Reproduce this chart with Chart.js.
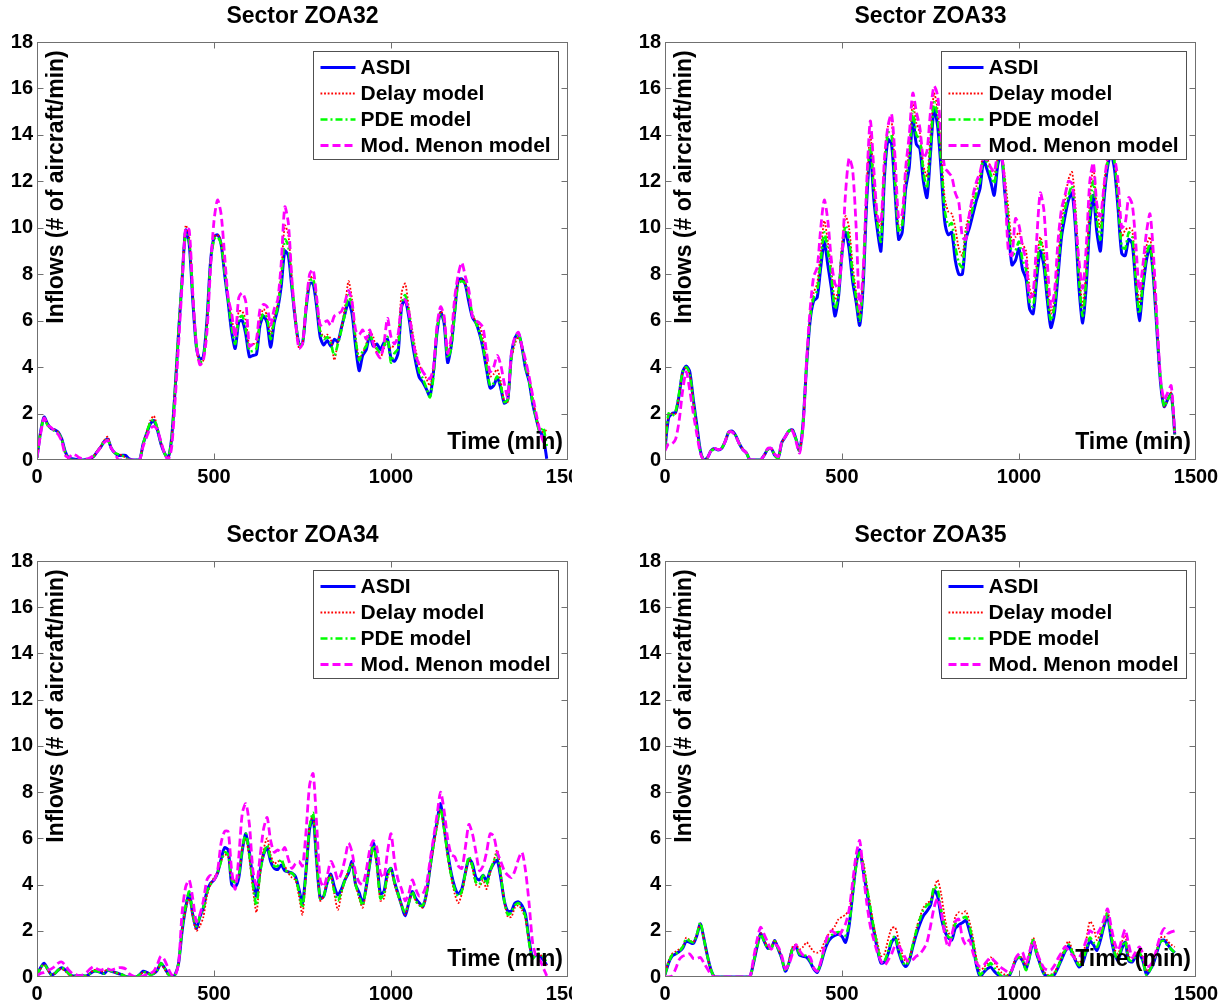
<!DOCTYPE html>
<html><head><meta charset="utf-8">
<script src="https://cdn.jsdelivr.net/npm/chart.js@4.4.1/dist/chart.umd.min.js"></script>
<style>
html,body{margin:0;padding:0;background:#fff;}
body{width:1228px;height:1006px;position:relative;overflow:hidden;}
.p{position:absolute;}
canvas{display:block;}
</style></head><body>
<div class="p" style="left:0;top:0;"><canvas id="c1" width="572" height="500"></canvas></div>
<div class="p" style="left:614px;top:0;"><canvas id="c2" width="614" height="500"></canvas></div>
<div class="p" style="left:0;top:500px;"><canvas id="c3" width="572" height="506"></canvas></div>
<div class="p" style="left:614px;top:500px;"><canvas id="c4" width="614" height="506"></canvas></div>
<script>
// ---------------- DATA ----------------
const TIME = [
0,10,20,30,40,50,60,70,80,90,
100,110,120,130,140,150,160,170,180,190,
200,210,220,230,240,250,260,270,280,290,
300,310,320,330,340,350,360,370,380,390,
400,410,420,430,440,450,460,470,480,490,
500,510,520,530,540,550,560,570,580,590,
600,610,620,630,640,650,660,670,680,690,
700,710,720,730,740,750,760,770,780,790,
800,810,820,830,840,850,860,870,880,890,
900,910,920,930,940,950,960,970,980,990,
1000,1010,1020,1030,1040,1050,1060,1070,1080,1090,
1100,1110,1120,1130,1140,1150,1160,1170,1180,1190,
1200,1210,1220,1230,1240,1250,1260,1270,1280,1290,
1300,1310,1320,1330,1340,1350,1360,1370,1380,1390,
1400,1410,1420,1430,1440];

const SECTORS = ['Sector ZOA32','Sector ZOA33','Sector ZOA34','Sector ZOA35'];
const SERIES_NAMES = ['ASDI','Delay model','PDE model','Mod. Menon model'];
const X_TICKS = [0,500,1000,1500];
const Y_TICKS = [0,2,4,6,8,10,12,14,16,18];
const X_LABEL = 'Time (min)';
const Y_LABEL = 'Inflows (# of aircraft/min)';

// ---- Sector ZOA32 ----
const ZOA32_ASDI = [
0.1,1.2,1.85,1.55,1.35,1.3,1.2,0.9,0.35,0.08,
0.05,0.02,0,0,0.02,0.05,0.15,0.36,0.55,0.8,
0.9,0.5,0.3,0.2,0.2,0.2,0.05,0,0,0,
0.7,1.15,1.55,1.7,1.3,0.7,0.3,0.08,0.9,3.0,
5.5,7.8,9.9,9.3,6.9,4.9,4.35,4.45,6.0,8.5,
9.6,9.7,9.3,8.0,6.8,5.5,4.8,5.95,6.0,5.4,
4.45,4.5,4.55,5.8,6.2,5.9,4.85,5.9,6.5,7.5,
9.0,8.8,7.4,6.0,5.0,5.0,6.5,7.6,7.6,6.6,
5.3,4.95,5.15,4.9,5.2,5.1,5.7,6.3,6.8,6.3,
4.9,3.85,4.5,4.75,5.4,4.9,5.0,4.75,5.05,5.2,
4.4,4.25,4.6,6.6,6.9,6.2,5.1,4.2,3.55,3.35,
3.05,2.75,3.8,5.5,6.35,5.9,4.2,4.9,6.4,7.75,
7.8,7.55,6.8,6.15,5.9,5.45,4.8,3.9,3.1,3.2,
3.55,3.1,2.45,2.6,4.5,5.25,5.45,4.85,3.95,3.4,
2.45,1.8,1.25,1.0,0.05];
const ZOA32_DELAY = [
0.1,1.2,1.85,1.55,1.4,1.3,1.2,0.9,0.3,0.05,
0,0,0,0,0,0.05,0.15,0.4,0.6,0.85,
1.0,0.5,0.3,0.25,0.2,0.1,0,0,0,0,
0.7,1.2,1.7,1.9,1.4,0.75,0.3,0.05,0.9,3.1,
5.6,8.0,10.1,9.6,7.1,4.9,4.1,4.3,5.9,8.5,
9.6,9.7,9.4,8.2,7.0,6.1,5.4,6.4,6.4,6.0,
4.9,5.0,5.0,6.1,6.5,6.2,5.4,6.2,6.7,8.1,
10.1,9.7,7.8,6.0,4.8,5.0,6.6,7.8,7.9,6.9,
5.6,5.3,5.4,5.2,4.3,5.1,5.7,6.6,7.7,6.9,
5.3,4.4,4.6,5.0,5.5,5.3,4.6,4.4,4.8,5.1,
4.8,5.0,5.3,7.2,7.6,6.6,5.6,4.7,4.1,3.8,
3.5,3.2,3.9,5.7,6.4,6.2,4.6,5.1,6.6,7.7,
7.8,7.6,7.0,6.2,6.0,5.8,5.2,4.3,3.6,3.7,
3.9,3.4,2.5,2.5,4.3,5.0,5.3,4.8,4.2,3.6,
2.7,1.9,1.3,1.2,1.3];
const ZOA32_PDE = [
0.1,1.2,1.8,1.5,1.35,1.25,1.15,0.9,0.3,0.05,
0,0,0,0,0,0.05,0.15,0.35,0.55,0.8,
0.85,0.5,0.3,0.25,0.2,0.1,0,0,0,0,
0.7,1.2,1.6,1.75,1.35,0.75,0.3,0.05,0.9,3.1,
5.6,7.9,9.7,9.4,7.1,5.0,4.2,4.4,5.9,8.4,
9.5,9.6,9.3,8.1,6.9,5.7,5.0,6.1,6.2,5.6,
4.7,4.7,4.8,5.9,6.3,6.1,5.2,6.0,6.6,7.8,
9.5,9.2,7.6,6.1,5.0,5.0,6.6,7.7,7.8,6.8,
5.5,5.2,5.3,5.0,4.5,5.0,5.6,6.3,7.1,6.6,
5.2,4.3,4.7,4.9,5.4,5.0,4.8,4.6,4.9,5.3,
4.2,4.6,4.8,6.7,7.1,6.4,5.3,4.4,3.8,3.5,
3.1,2.7,3.6,5.6,6.3,6.0,4.4,4.8,6.3,7.6,
7.7,7.6,7.0,6.3,5.9,5.5,4.9,4.0,3.2,3.3,
3.6,3.2,2.5,2.6,4.4,5.2,5.4,4.9,4.0,3.4,
2.5,1.8,1.2,1.4,0.6];
const ZOA32_MENON = [
0.1,1.1,1.8,1.5,1.4,1.25,1.1,0.8,0.2,0.1,
0.25,0.2,0.1,0.05,0.05,0.1,0.2,0.35,0.55,0.75,
0.85,0.5,0.3,0,0,0,0,0,0,0,
0.6,1.0,1.35,1.45,1.3,0.8,0.3,0,0.5,2.5,
5.0,7.6,10.0,9.9,7.2,5.0,4.1,4.3,5.5,8.2,
10.3,11.2,10.6,8.8,7.0,6.3,5.3,7.0,7.2,6.8,
4.9,5.0,5.2,6.5,6.7,6.6,5.8,6.5,6.9,8.5,
10.9,10.2,7.8,6.0,4.8,5.0,6.6,8.0,8.2,7.0,
5.8,5.9,6.0,5.8,6.2,6.3,6.4,6.8,7.3,6.8,
5.6,5.4,5.6,5.2,5.6,5.0,4.6,4.4,5.0,6.1,
5.3,5.0,5.4,6.7,6.9,6.4,5.4,4.5,4.1,3.8,
3.6,3.5,4.0,5.8,6.6,6.2,4.6,5.3,7.0,8.0,
8.5,7.9,7.3,6.2,6.0,5.9,5.7,4.6,3.8,4.0,
4.5,4.1,3.3,2.7,4.6,5.3,5.5,4.9,4.3,3.6,
2.8,2.0,1.3,0.8,0.7];

// ---- Sector ZOA33 ----
const ZOA33_ASDI = [
0.5,1.8,2.0,2.05,2.8,3.8,4.05,3.8,2.6,1.5,
0.4,0,0.1,0.4,0.5,0.43,0.5,0.8,1.2,1.25,
1.05,0.7,0.45,0.3,0,0,0,0,0.2,0.45,
0.5,0.2,0.1,0.75,1.0,1.25,1.3,0.9,0.4,1.6,
4.1,6.0,6.85,7.0,8.3,9.4,8.4,7.4,6.2,7.0,
8.9,9.8,9.1,7.7,6.8,5.8,7.6,11.2,13.3,11.2,
9.9,9.0,12.2,13.8,13.6,11.5,9.5,9.8,11.7,12.6,
14.7,13.6,13.4,12.0,11.3,13.2,15.1,14.4,12.5,10.3,
9.7,9.8,8.6,8.0,8.0,9.5,10.0,10.6,11.2,11.7,
12.9,12.5,12.0,11.4,12.7,13.2,11.5,10.0,8.4,8.6,
9.1,8.2,7.8,6.5,6.3,7.8,9.0,8.4,6.9,5.7,
6.3,7.9,9.6,10.5,11.2,11.5,9.9,7.3,5.9,7.5,
10.2,11.4,9.8,9.0,11.2,12.6,13.2,12.5,10.8,8.9,
8.8,9.5,9.3,7.5,6.0,7.4,8.6,9.2,7.8,5.5,
3.3,2.3,2.6,2.85,1.1];
const ZOA33_DELAY = [
0.5,1.9,2.0,2.0,2.8,3.8,4.0,3.7,2.5,1.4,
0.35,0,0.1,0.4,0.5,0.45,0.5,0.8,1.2,1.25,
1.05,0.7,0.45,0.3,0,0,0,0,0.2,0.45,
0.5,0.2,0.1,0.75,1.0,1.25,1.3,0.9,0.35,1.5,
4.1,6.3,7.2,7.6,9.0,10.3,9.4,8.2,6.9,7.4,
9.3,10.5,10.0,8.4,7.2,6.2,8.0,11.9,14.0,12.0,
10.3,10.0,12.9,14.4,14.6,12.4,10.0,10.2,12.3,13.4,
15.4,14.5,14.1,12.7,12.2,14.0,15.8,15.1,13.3,11.3,
10.7,10.6,10.0,9.1,8.8,10.0,10.6,11.3,11.8,12.3,
13.3,13.0,12.6,12.3,13.0,13.3,12.2,10.8,9.4,9.6,
9.8,9.3,9.0,7.4,7.0,8.5,9.6,9.0,7.6,6.3,
6.9,8.6,10.3,11.2,12.1,12.4,10.8,8.2,6.6,8.3,
11.2,12.6,10.8,10.0,11.8,13.0,13.4,12.9,11.4,9.6,
9.9,10.0,9.9,8.0,6.8,7.9,9.2,9.6,8.1,5.7,
3.4,2.3,2.6,2.9,1.1];
const ZOA33_PDE = [
0.5,2.0,1.9,2.1,2.9,3.8,4.0,3.7,2.5,1.4,
0.35,0,0.1,0.4,0.45,0.45,0.5,0.8,1.2,1.2,
1.05,0.7,0.45,0.3,0,0,0,0,0.2,0.45,
0.5,0.2,0.05,0.75,1.0,1.25,1.3,0.9,0.4,1.6,
4.1,6.1,7.0,7.3,8.6,9.8,9.0,7.9,6.5,7.1,
9.0,10.1,9.5,8.0,7.0,6.0,7.8,11.6,13.6,11.6,
10.2,9.4,12.5,14.1,14.0,11.9,9.8,10.1,12.0,13.0,
15.0,14.0,13.8,12.4,11.7,13.5,15.4,14.8,12.9,10.8,
10.1,10.2,9.2,8.5,8.3,9.8,10.3,10.9,11.5,12.0,
13.1,12.8,12.3,11.9,12.9,13.3,11.8,10.3,8.8,9.0,
9.4,8.6,8.2,6.8,6.6,8.1,9.4,8.7,7.2,6.0,
6.6,8.2,9.9,10.8,11.4,11.8,10.3,7.7,6.2,7.9,
10.6,12.0,10.3,9.5,11.5,12.8,13.4,12.8,11.1,9.2,
9.1,9.8,9.6,7.8,6.3,7.6,8.8,9.3,7.9,5.6,
3.4,2.3,2.6,2.8,1.1];
const ZOA33_MENON = [
0.4,0.7,0.7,0.9,1.7,3.0,3.8,3.0,2.0,1.1,
0.3,0,0.1,0.4,0.5,0.45,0.5,0.8,1.2,1.2,
1.0,0.7,0.45,0.3,0,0,0,0,0.2,0.5,
0.5,0.25,0.15,0.8,1.0,1.25,1.25,0.8,0.3,1.4,
4.3,6.5,7.9,8.3,10.0,11.2,10.3,8.6,7.6,7.4,
8.8,11.5,13.0,12.5,10.0,6.5,8.2,12.0,14.6,12.5,
10.5,10.2,13.0,14.4,14.9,13.0,10.4,10.6,12.6,14.0,
15.8,15.0,14.3,13.0,13.3,15.0,16.1,15.7,14.0,12.6,
12.4,12.2,11.5,11.1,9.6,9.5,10.6,11.4,12.0,12.4,
13.0,12.9,12.6,12.4,13.2,13.2,11.8,9.0,8.8,10.4,
10.1,9.2,8.6,7.0,7.2,9.5,11.5,10.8,8.5,6.6,
7.2,9.4,10.8,11.4,12.0,11.9,10.3,8.5,7.4,9.2,
12.0,12.8,11.0,10.5,11.8,13.0,13.3,13.0,12.0,10.0,
10.2,11.3,11.0,9.3,7.3,8.4,9.8,10.6,8.8,6.0,
3.5,2.6,2.9,3.2,1.2];

// ---- Sector ZOA34 ----
const ZOA34_ASDI = [
0.05,0.4,0.6,0.35,0.1,0.15,0.3,0.4,0.3,0.15,
0.05,0.05,0.05,0.05,0.05,0.15,0.25,0.25,0.2,0.15,
0.3,0.25,0.2,0.15,0.1,0.02,0,0,0,0.1,
0.25,0.2,0.12,0.15,0.3,0.6,0.4,0.15,0,0.1,
0.6,2.0,3.0,3.6,2.7,2.1,2.6,3.0,3.7,4.05,
4.2,4.5,5.1,5.6,5.5,4.0,3.9,4.3,5.5,6.2,
5.4,4.2,3.5,4.6,5.3,5.6,5.0,4.7,4.65,4.85,
4.6,4.55,4.5,4.35,3.8,3.2,4.6,6.4,6.9,5.0,
3.4,3.5,4.1,4.45,3.9,3.55,3.8,4.2,4.5,5.0,
4.0,3.65,3.2,3.9,4.9,5.8,5.0,3.6,3.7,4.5,
4.7,4.1,3.6,3.1,2.65,3.2,3.7,3.4,3.2,3.05,
3.6,4.7,5.8,6.7,7.5,6.5,5.4,4.5,3.9,3.6,
3.8,4.5,5.1,4.9,4.3,4.2,4.4,4.15,4.6,4.9,
5.05,4.3,3.3,2.85,2.85,3.2,3.25,3.1,2.7,1.6,
0.85,0.95,0.9,0.75,0.5];
const ZOA34_DELAY = [
0.05,0.35,0.55,0.3,0.1,0.15,0.3,0.35,0.25,0.1,
0.05,0.05,0.05,0.05,0.05,0.15,0.3,0.3,0.25,0.25,
0.35,0.3,0.2,0.15,0.1,0.05,0,0,0,0.1,
0.2,0.2,0.1,0.15,0.3,0.55,0.35,0.1,0,0.1,
0.6,2.0,2.9,3.4,2.6,2.0,2.2,2.6,3.5,4.0,
4.3,4.5,5.0,5.3,5.2,4.2,4.2,4.4,5.6,6.0,
5.1,3.8,2.8,4.4,5.5,6.0,5.3,4.9,5.0,5.0,
4.8,4.5,4.3,4.2,3.5,2.7,4.5,6.5,7.0,5.0,
3.3,3.5,4.2,4.4,3.6,2.9,3.6,4.2,4.6,4.9,
4.0,3.4,3.0,3.8,4.9,5.6,4.8,3.3,3.4,4.3,
4.6,4.0,3.5,3.1,2.7,3.2,3.6,3.3,3.1,3.0,
3.5,4.6,5.6,6.5,7.2,6.4,5.2,4.3,3.6,3.2,
3.6,4.4,5.1,4.7,4.0,3.9,4.2,3.8,4.5,5.0,
5.5,4.5,3.3,2.6,2.6,3.0,3.1,2.9,2.5,1.5,
0.8,1.0,1.0,0.8,0.5];
const ZOA34_PDE = [
0.05,0.4,0.55,0.35,0.1,0.15,0.3,0.4,0.3,0.15,
0.05,0.05,0.05,0.05,0.05,0.15,0.25,0.25,0.2,0.15,
0.3,0.25,0.2,0.15,0.1,0.02,0,0,0,0.1,
0.2,0.2,0.1,0.15,0.3,0.6,0.4,0.15,0,0.1,
0.6,2.1,3.1,3.7,2.8,2.2,2.6,3.0,3.7,4.0,
4.2,4.5,5.0,5.4,5.3,4.2,4.1,4.4,5.6,6.2,
5.3,4.0,3.1,4.5,5.3,5.7,5.1,4.8,4.8,5.1,
4.7,4.5,4.5,4.3,3.7,3.0,4.6,6.5,7.1,5.1,
3.4,3.5,4.1,4.3,3.7,3.3,3.7,4.2,4.6,4.9,
4.0,3.5,3.1,3.9,4.9,5.7,4.9,3.4,3.6,4.4,
4.7,4.1,3.6,3.1,2.8,3.2,3.7,3.3,3.1,3.1,
3.6,4.7,5.7,6.6,7.3,6.4,5.3,4.4,3.8,3.5,
3.7,4.5,5.2,4.8,4.1,4.0,4.4,4.0,4.6,5.0,
5.3,4.4,3.3,2.7,2.8,3.1,3.2,3.0,2.6,1.5,
0.8,1.0,1.0,0.9,0.6];
const ZOA34_MENON = [
0.05,0.15,0.2,0.3,0.35,0.45,0.6,0.65,0.5,0.3,
0.15,0.1,0.05,0.1,0.2,0.35,0.45,0.35,0.3,0.35,
0.35,0.3,0.35,0.4,0.4,0.35,0.15,0.05,0,0,
0.05,0.1,0.15,0.25,0.55,0.9,0.75,0.4,0.1,0.05,
0.6,2.8,3.9,4.2,3.4,2.4,2.7,3.3,4.2,4.4,
4.2,4.6,5.8,6.3,6.3,4.6,3.8,5.2,7.1,7.5,
6.6,4.6,4.0,5.2,6.4,6.9,5.9,5.4,5.5,5.4,
5.6,5.1,4.7,4.9,5.0,4.8,6.3,8.3,8.8,6.6,
4.2,3.9,4.4,5.0,4.7,4.2,4.5,5.1,5.8,5.4,
4.5,4.1,4.0,4.6,5.5,5.9,5.6,4.5,4.3,5.4,
6.2,5.0,4.2,3.8,3.3,3.6,4.2,3.8,3.5,3.6,
4.0,5.0,6.0,7.0,8.0,7.2,6.0,5.3,5.2,4.8,
4.7,5.6,6.6,6.2,5.4,4.6,4.8,5.4,6.2,6.1,
5.4,5.0,4.6,4.4,4.3,4.6,5.1,5.4,4.6,3.2,
1.5,0.9,0.75,0.4,0.05];

// ---- Sector ZOA35 ----
const ZOA35_ASDI = [
0.1,0.6,0.9,1.0,1.1,1.25,1.55,1.5,1.45,1.8,
2.3,1.65,0.9,0.3,0,0,0,0,0,0,
0,0,0,0,0,0.6,1.3,1.88,1.55,1.25,
1.25,1.58,1.2,0.8,0.25,0.6,1.2,1.3,0.95,0.9,
0.85,0.65,0.35,0.2,0.55,1.1,1.5,1.7,1.8,1.85,
1.75,1.5,2.2,3.6,4.9,5.5,4.6,3.7,2.8,2.0,
1.2,0.6,0.65,1.0,1.5,1.7,1.1,0.65,0.45,0.7,
1.3,1.85,2.3,2.65,2.85,3.1,3.75,3.5,2.6,2.0,
1.7,1.6,2.1,2.25,2.35,2.45,2.0,1.4,0.5,0.02,
0.2,0.35,0.43,0.25,0.1,0,0,0,0.3,0.7,
0.85,0.7,0.36,0.9,1.55,1.0,0.55,0.15,0.02,0,
0.1,0.4,0.75,1.1,1.35,1.05,0.7,0.43,0.6,1.1,
1.55,1.4,1.15,1.6,2.2,2.65,1.7,1.0,0.72,1.2,
1.5,0.7,0.65,0.9,1.0,0.7,0.12,0.3,0.6,1.1,
1.55,1.6,1.4,1.2,1.05];
const ZOA35_DELAY = [
0.1,0.7,1.0,1.1,1.2,1.3,1.7,1.6,1.5,1.85,
2.3,1.6,0.85,0.3,0,0,0,0,0,0,
0,0,0,0,0,0.6,1.3,1.9,1.6,1.3,
1.3,1.6,1.25,0.8,0.3,0.7,1.3,1.4,1.2,1.3,
1.5,1.3,1.1,1.05,1.15,1.5,1.8,2.0,2.2,2.5,
2.6,2.7,2.9,3.8,4.9,5.3,5.0,4.0,3.1,2.2,
1.5,0.9,1.0,1.6,2.1,2.15,1.6,1.0,0.65,0.8,
1.4,2.1,2.6,3.0,3.2,3.3,3.8,4.2,3.6,2.6,
1.9,1.9,2.6,2.8,2.75,2.85,2.4,1.7,0.8,0.3,
0.4,0.6,0.85,0.65,0.4,0.2,0.1,0.1,0.35,0.8,
0.9,0.8,0.5,1.1,1.7,1.2,0.6,0.25,0.1,0.1,
0.2,0.5,0.9,1.3,1.55,1.2,0.8,0.6,0.9,1.6,
2.4,2.2,1.6,1.9,2.3,2.85,2.0,1.2,1.0,1.5,
1.8,0.9,0.8,1.0,1.1,0.8,0.25,0.4,0.75,1.2,
1.7,1.75,1.55,1.4,1.3];
const ZOA35_PDE = [
0.1,0.6,0.95,1.0,1.1,1.3,1.65,1.55,1.5,1.85,
2.35,1.65,0.9,0.3,0,0,0,0,0,0,
0,0,0,0,0,0.6,1.3,1.85,1.55,1.25,
1.25,1.55,1.2,0.8,0.25,0.6,1.2,1.35,1.0,0.95,
0.9,0.7,0.4,0.25,0.6,1.2,1.6,1.8,1.9,1.95,
1.9,1.8,2.3,3.5,4.8,5.4,4.8,3.9,3.0,2.1,
1.3,0.7,0.7,1.1,1.6,1.75,1.2,0.7,0.5,0.75,
1.4,2.0,2.5,2.9,3.1,3.2,3.9,3.8,2.9,2.2,
1.75,1.7,2.3,2.5,2.55,2.6,2.2,1.5,0.6,0.1,
0.25,0.45,0.6,0.4,0.2,0.05,0.05,0.05,0.3,0.75,
0.85,0.7,0.3,0.9,1.6,1.0,0.5,0.15,0.05,0.05,
0.15,0.45,0.8,1.15,1.4,1.1,0.75,0.5,0.7,1.2,
1.7,1.5,1.3,1.7,2.3,2.75,1.8,1.05,0.75,1.3,
1.55,0.75,0.7,0.95,1.05,0.7,0.1,0.3,0.65,1.15,
1.55,1.55,1.35,1.2,1.05];
const ZOA35_MENON = [
0,0,0.05,0.35,0.75,0.9,0.95,1.0,0.8,0.8,
0.85,0.6,0.35,0.1,0,0,0,0,0,0,
0,0,0,0,0,0.8,1.6,2.15,1.85,1.5,
1.2,1.4,1.3,0.9,0.35,0.55,1.0,1.4,1.15,0.95,
0.9,0.85,0.4,0.25,0.65,1.3,1.8,2.0,1.9,1.75,
2.0,2.3,2.9,4.1,5.3,5.9,4.5,3.2,2.2,1.6,
1.05,0.7,0.5,0.72,1.0,1.35,1.35,1.1,0.8,0.65,
0.75,0.9,1.0,1.2,1.5,2.2,3.0,3.4,2.9,1.85,
1.3,1.8,2.4,2.5,1.7,1.4,1.6,1.05,0.6,0.45,
0.5,0.7,0.85,0.7,0.55,0.4,0.3,0.2,0.3,0.8,
1.0,1.08,0.58,1.1,1.55,1.1,0.7,0.4,0.3,0.3,
0.5,0.8,1.05,1.3,1.15,0.95,0.78,0.85,1.15,1.6,
2.0,1.9,1.88,2.1,2.5,2.95,2.2,1.5,1.15,1.6,
2.05,1.4,0.85,1.1,1.3,1.0,0.45,0.5,0.72,1.3,
1.8,2.1,1.9,1.95,2.0];

// ---------------- STYLE / LAYOUT ----------------
const FONT = "'Liberation Sans', Arial, Helvetica, sans-serif";
const STYLES = [
  {color:'#0000ff', width:3, dash:[], order:4},
  {color:'#ff0000', width:1.8, dash:[1.8,1.8], order:3},
  {color:'#00ff00', width:2.6, dash:[7,3,2,3], order:2},
  {color:'#ff00ff', width:2.8, dash:[8,4], order:1}
];
const PANELS = [
  {id:'c1', title:SECTORS[0], series:[ZOA32_ASDI,ZOA32_DELAY,ZOA32_PDE,ZOA32_MENON], yw:37, xh:40, top:42, right:4},
  {id:'c2', title:SECTORS[1], series:[ZOA33_ASDI,ZOA33_DELAY,ZOA33_PDE,ZOA33_MENON], yw:51, xh:40, top:42, right:32},
  {id:'c3', title:SECTORS[2], series:[ZOA34_ASDI,ZOA34_DELAY,ZOA34_PDE,ZOA34_MENON], yw:37, xh:29, top:61, right:4},
  {id:'c4', title:SECTORS[3], series:[ZOA35_ASDI,ZOA35_DELAY,ZOA35_PDE,ZOA35_MENON], yw:51, xh:29, top:61, right:32}
];

const decor = {
  id:'decor',
  afterDatasetsDraw(chart){
    const ctx = chart.ctx, a = chart.chartArea;
    const xs = chart.scales.x, ys = chart.scales.y;
    const L = Math.round(a.left)+0.5, R = Math.round(a.right)-0.5;
    const T = Math.round(a.top)+0.5, B = Math.round(a.bottom)-0.5;
    ctx.save();
    ctx.setLineDash([]);
    ctx.strokeStyle = '#707070';
    ctx.lineWidth = 1;
    ctx.strokeRect(L, T, R-L, B-T);
    ctx.beginPath();
    Y_TICKS.forEach(v=>{
      if (v===Y_TICKS[0] || v===Y_TICKS[Y_TICKS.length-1]) return;
      const y = Math.round(ys.getPixelForValue(v))+0.5;
      ctx.moveTo(L, y); ctx.lineTo(L+6, y);
      ctx.moveTo(R, y); ctx.lineTo(R-6, y);
    });
    X_TICKS.forEach(v=>{
      if (v===X_TICKS[0] || v===X_TICKS[X_TICKS.length-1]) return;
      const x = Math.round(xs.getPixelForValue(v))+0.5;
      ctx.moveTo(x, T); ctx.lineTo(x, T+6);
      ctx.moveTo(x, B); ctx.lineTo(x, B-6);
    });
    ctx.stroke();

    ctx.fillStyle = '#000';
    ctx.font = 'bold 23px ' + FONT;
    ctx.textAlign = 'center'; ctx.textBaseline = 'middle';
    ctx.fillText(chart.options.plugins.decor.title, (a.left+a.right)/2, a.top-25);
    ctx.textAlign = 'right';
    ctx.fillText(X_LABEL, a.right-5, a.bottom-17);
    ctx.save();
    ctx.translate(a.left+20, a.top+145);
    ctx.rotate(-Math.PI/2);
    ctx.textAlign = 'center';
    ctx.fillText(Y_LABEL, 0, 0);
    ctx.restore();

    const bw = 245, bh = 108;
    const bx = Math.round(a.right-10-bw)+0.5, by = Math.round(a.top+9)+0.5;
    ctx.fillStyle = '#fff';
    ctx.fillRect(bx, by, bw, bh);
    ctx.strokeStyle = '#505050';
    ctx.lineWidth = 1;
    ctx.strokeRect(bx, by, bw, bh);
    ctx.font = 'bold 21px ' + FONT;
    ctx.textAlign = 'left'; ctx.textBaseline = 'middle';
    SERIES_NAMES.forEach((name,i)=>{
      const st = STYLES[i];
      const yy = by + 16 + 26*i;
      ctx.beginPath();
      ctx.setLineDash(st.dash);
      ctx.strokeStyle = st.color;
      ctx.lineWidth = st.width;
      ctx.moveTo(bx+7, yy); ctx.lineTo(bx+42, yy);
      ctx.stroke();
      ctx.setLineDash([]);
      ctx.fillStyle = '#000';
      ctx.fillText(name, bx+47, yy+1);
    });
    ctx.restore();
  }
};

PANELS.forEach(p=>{
  const datasets = p.series.map((vals,i)=>({
    label: SERIES_NAMES[i],
    data: TIME.map((t,k)=>({x:t, y:vals[k]})),
    borderColor: STYLES[i].color,
    borderWidth: STYLES[i].width,
    borderDash: STYLES[i].dash,
    pointRadius: 0,
    tension: 0.25,
    fill: false,
    order: STYLES[i].order
  }));
  new Chart(document.getElementById(p.id), {
    type:'line',
    data:{datasets},
    plugins:[decor],
    options:{
      responsive:false,
      animation:false,
      devicePixelRatio:1,
      layout:{padding:{top:p.top, right:p.right, left:0, bottom:0}},
      plugins:{legend:{display:false}, tooltip:{enabled:false}, title:{display:false}, decor:{title:p.title}},
      scales:{
        x:{
          type:'linear', min:X_TICKS[0], max:X_TICKS[X_TICKS.length-1],
          grid:{display:false, drawTicks:false}, border:{display:false},
          afterBuildTicks:s=>{ s.ticks = X_TICKS.map(v=>({value:v})); },
          afterFit:s=>{ s.height = p.xh; s.paddingLeft = 0; s.paddingRight = 0; },
          ticks:{color:'#000', font:{family:FONT, size:20, weight:'bold'}, padding:5, maxRotation:0, minRotation:0, autoSkip:false, callback:v=>String(v)}
        },
        y:{
          type:'linear', min:Y_TICKS[0], max:Y_TICKS[Y_TICKS.length-1],
          grid:{display:false, drawTicks:false}, border:{display:false},
          afterBuildTicks:s=>{ s.ticks = Y_TICKS.map(v=>({value:v})); },
          afterFit:s=>{ s.width = p.yw; s.paddingTop = 0; s.paddingBottom = 0; },
          ticks:{color:'#000', font:{family:FONT, size:20, weight:'bold'}, padding:4, autoSkip:false, callback:v=>String(v)}
        }
      }
    }
  });
});
</script>
</body></html>
